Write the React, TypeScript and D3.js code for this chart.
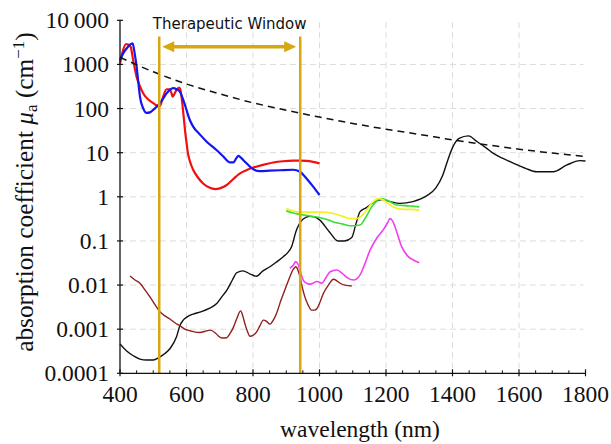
import React from "react";
import * as d3 from "d3";

type P = [number, number];

const xTicks = [400, 600, 800, 1000, 1200, 1400, 1600, 1800];
const xMinorTicks = d3.range(450, 1800, 50).filter((v) => v % 200 !== 0);
const yTicks = [0.0001, 0.001, 0.01, 0.1, 1, 10, 100, 1000, 10000];
const yTickLabels = ["0.0001", "0.001", "0.01", "0.1", "1", "10", "100", "1000", "10\u2009000"];
const xGrid = [600, 800, 1000, 1200, 1400, 1600];
const yGrid = [0.001, 0.01, 0.1, 1, 10, 100, 1000];
const windowEdges = [518, 942];

const scattering: P[] = [
  [400, 1450], [500, 680], [600, 360], [700, 215], [800, 135], [900, 92], [1000, 64],
  [1100, 46], [1200, 34], [1300, 26], [1400, 19.5], [1500, 15.2], [1600, 12], [1700, 9.8], [1800, 8.2],
];

const water: P[] = [
  [400, 0.00046], [420, 0.00032], [440, 0.00025], [460, 0.00021], [480, 0.0002], [500, 0.0002],
  [518, 0.00023], [535, 0.00028], [550, 0.00036], [570, 0.00067], [580, 0.0012], [590, 0.0016],
  [602, 0.0019], [620, 0.0022], [645, 0.0025], [670, 0.003], [691, 0.0038], [706, 0.0054],
  [721, 0.0076], [738, 0.013], [751, 0.019], [770, 0.021], [790, 0.018], [810, 0.0158],
  [830, 0.021], [851, 0.026], [870, 0.033], [891, 0.044], [905, 0.055], [916, 0.074],
  [930, 0.17], [950, 0.31], [970, 0.36], [985, 0.35], [1000, 0.3], [1030, 0.16], [1055, 0.1],
  [1075, 0.1], [1097, 0.12], [1110, 0.25], [1122, 0.46], [1140, 0.56], [1167, 0.78],
  [1187, 0.87], [1212, 0.78], [1242, 0.71], [1281, 0.78], [1322, 1.05], [1350, 1.6],
  [1370, 3.0], [1385, 6.5], [1400, 13], [1420, 21], [1448, 24], [1473, 18], [1500, 13],
  [1523, 9.6], [1550, 7.5], [1583, 5.8], [1620, 4.4], [1653, 3.7], [1703, 3.7], [1743, 5.2],
  [1783, 6.6], [1800, 6.5],
];

const oxyHb: P[] = [
  [400, 1050], [410, 2200], [418, 2900], [425, 2800], [432, 2500], [440, 1200], [450, 520],
  [460, 320], [470, 220], [485, 160], [500, 133], [510, 118], [518, 110], [525, 140], [530, 186],
  [540, 274], [550, 274], [555, 220], [558, 186], [563, 210], [570, 265], [578, 300], [582, 260],
  [585, 186], [588, 120], [592, 60], [596, 30], [600, 17], [604, 10], [610, 6.5], [620, 4.1],
  [635, 2.7], [650, 2.0], [670, 1.6], [686, 1.5], [700, 1.55], [721, 1.85], [740, 2.5],
  [761, 3.4], [780, 4.0], [801, 4.6], [830, 5.3], [861, 6.0], [890, 6.4], [921, 6.6],
  [940, 6.6], [961, 6.5], [980, 6.2], [1000, 5.7],
];

const deoxyHb: P[] = [
  [400, 1260], [410, 1800], [420, 2300], [430, 2800], [438, 3000], [444, 1800], [450, 890],
  [455, 400], [460, 186], [470, 100], [480, 80], [490, 82], [500, 93], [510, 110], [520, 132],
  [530, 170], [540, 220], [550, 265], [560, 290], [570, 275], [580, 240], [590, 160], [600, 93],
  [610, 55], [620, 39], [640, 26], [660, 18], [690, 11.5], [710, 8.3], [731, 6.0], [741, 6.0],
  [750, 7.5], [756, 8.5], [765, 7.5], [775, 6.3], [790, 4.9], [801, 4.2], [821, 3.8],
  [850, 3.9], [881, 4.0], [921, 4.1], [941, 3.7], [961, 2.6], [981, 1.7], [1000, 1.1],
];

const yellowSeries: P[] = [
  [900, 0.54], [920, 0.48], [941, 0.45], [970, 0.45], [1000, 0.45], [1042, 0.42], [1070, 0.36],
  [1090, 0.32], [1112, 0.32], [1125, 0.36], [1137, 0.45], [1157, 0.71], [1177, 0.91],
  [1192, 0.85], [1207, 0.7], [1222, 0.59], [1252, 0.52], [1275, 0.52], [1300, 0.5],
];

const greenSeries: P[] = [
  [900, 0.48], [920, 0.43], [941, 0.4], [970, 0.37], [992, 0.35], [1020, 0.31], [1042, 0.27],
  [1070, 0.24], [1092, 0.22], [1122, 0.23], [1137, 0.32], [1157, 0.59], [1172, 0.8],
  [1182, 0.91], [1202, 0.85], [1232, 0.65], [1272, 0.62], [1300, 0.59],
];

const magentaSeries: P[] = [
  [911, 0.024], [921, 0.028], [928, 0.034], [935, 0.03], [941, 0.022], [951, 0.013],
  [961, 0.011], [971, 0.0105], [981, 0.011], [991, 0.012], [1000, 0.0115], [1007, 0.011],
  [1020, 0.015], [1032, 0.02], [1052, 0.022], [1070, 0.018], [1082, 0.015], [1102, 0.013],
  [1122, 0.017], [1137, 0.031], [1152, 0.062], [1172, 0.115], [1192, 0.18], [1205, 0.26],
  [1212, 0.32], [1220, 0.28], [1227, 0.21], [1247, 0.074], [1267, 0.044], [1285, 0.036],
  [1300, 0.032],
];

const brownSeries: P[] = [
  [430, 0.016], [445, 0.013], [460, 0.011], [475, 0.0078], [490, 0.0054], [505, 0.0036],
  [520, 0.0025], [535, 0.002], [550, 0.0017], [565, 0.0014], [580, 0.0012], [595, 0.001],
  [611, 0.00092], [626, 0.00086], [641, 0.00084], [656, 0.0009], [671, 0.00095], [686, 0.00083],
  [696, 0.0007], [706, 0.00063], [721, 0.00064], [731, 0.0008], [741, 0.0011], [752, 0.0018],
  [763, 0.0026], [770, 0.0019], [776, 0.0013], [783, 0.0009], [791, 0.00069], [800, 0.00072],
  [811, 0.00087], [821, 0.0012], [831, 0.0016], [841, 0.0015], [851, 0.0013], [861, 0.0016],
  [871, 0.0023], [884, 0.0045], [896, 0.0078], [911, 0.0155], [920, 0.022], [929, 0.026],
  [935, 0.022], [941, 0.0155], [948, 0.009], [956, 0.0054], [966, 0.0035], [976, 0.0027],
  [985, 0.0027], [992, 0.0029], [1002, 0.0042], [1012, 0.0065], [1027, 0.01], [1042, 0.0135],
  [1052, 0.0125], [1062, 0.011], [1080, 0.0098], [1097, 0.0095],
];

const W = 611;
const H = 444;
const left = 120;
const right = 585.5;
const top = 20.3;
const bottom = 373.3;
const gold = "#D6A70E";
const serif = "Liberation Serif, Times New Roman, Times, DejaVu Serif, serif";
const sans = "DejaVu Sans, Verdana, sans-serif";

export default function App() {
  const x = d3.scaleLinear().domain([400, 1800]).range([left, right]);
  const y = d3.scaleLog().domain([0.0001, 10000]).range([bottom, top]);
  const line = d3
    .line<P>()
    .x((d) => x(d[0]))
    .y((d) => y(d[1]))
    .curve(d3.curveMonotoneX);

  const series: { data: P[]; color: string; width: number; dash?: string }[] = [
    { data: water, color: "#111", width: 1.4 },
    { data: brownSeries, color: "#8E2020", width: 1.4 },
    { data: magentaSeries, color: "#F040F0", width: 1.6 },
    { data: greenSeries, color: "#33E033", width: 1.6 },
    { data: yellowSeries, color: "#F2F020", width: 1.6 },
    { data: oxyHb, color: "#F01010", width: 2.2 },
    { data: deoxyHb, color: "#1515F0", width: 2.2 },
    { data: scattering, color: "#111", width: 1.5, dash: "7,5" },
  ];

  const ax0 = x(windowEdges[0]) + 3;
  const ax1 = x(windowEdges[1]) - 4;
  const ay = 46.7;
  const head = 12;
  const hh = 5.5;
  const serifStyle = { fontFamily: serif };

  return (
    <svg
      width={W}
      height={H}
      style={{ position: "absolute", left: 0, top: 0, background: "#fff" }}
    >
      {/* grid */}
      {xGrid.map((v) => (
        <line key={"gx" + v} x1={x(v)} x2={x(v)} y1={top + 2} y2={bottom}
          stroke="#dcdcdc" strokeWidth={1} strokeDasharray="6,4" />
      ))}
      {yGrid.map((v) => (
        <line key={"gy" + v} x1={left} x2={right - 2} y1={y(v)} y2={y(v)}
          stroke="#dcdcdc" strokeWidth={1} strokeDasharray="6,4" />
      ))}

      {/* series */}
      {series.map((s, i) => (
        <path key={i} d={line(s.data) || ""} fill="none" stroke={s.color}
          strokeWidth={s.width} strokeDasharray={s.dash} strokeLinejoin="round" />
      ))}

      {/* therapeutic window */}
      {windowEdges.map((v) => (
        <line key={"tw" + v} x1={x(v)} x2={x(v)} y1={36.5} y2={bottom}
          stroke={gold} strokeWidth={2.5} />
      ))}
      <line x1={ax0 + head - 1} x2={ax1 - head + 1} y1={ay} y2={ay} stroke={gold} strokeWidth={3.5} />
      <path d={`M${ax0},${ay} L${ax0 + head},${ay - hh} L${ax0 + head},${ay + hh} Z`} fill={gold} />
      <path d={`M${ax1},${ay} L${ax1 - head},${ay - hh} L${ax1 - head},${ay + hh} Z`} fill={gold} />
      <text x={(x(windowEdges[0]) + x(windowEdges[1])) / 2} y={29} textAnchor="middle"
        style={{ fontFamily: sans }} fontSize={15} fill="#111">
        Therapeutic Window
      </text>

      {/* axes */}
      <line x1={left} x2={left} y1={top} y2={bottom} stroke="#111" strokeWidth={1.3} />
      <line x1={left} x2={right} y1={bottom} y2={bottom} stroke="#111" strokeWidth={1.3} />
      {yTicks.map((v, i) => (
        <g key={"yt" + v}>
          <line x1={left - 3} x2={left + 3} y1={y(v)} y2={y(v)} stroke="#111" strokeWidth={1.2} />
          <text x={109} y={y(v) + 8} textAnchor="end" style={serifStyle} fontSize={23.5} fill="#111">
            {yTickLabels[i]}
          </text>
        </g>
      ))}
      {xTicks.map((v) => (
        <g key={"xt" + v}>
          <line x1={x(v)} x2={x(v)} y1={bottom - 4} y2={bottom + 3} stroke="#111" strokeWidth={1.2} />
          <text x={x(v)} y={401.5} textAnchor="middle" style={serifStyle} fontSize={23.5} fill="#111">
            {v}
          </text>
        </g>
      ))}
      {xMinorTicks.map((v) => (
        <line key={"xm" + v} x1={x(v)} x2={x(v)} y1={bottom - 3} y2={bottom}
          stroke="#111" strokeWidth={1} />
      ))}

      {/* axis titles */}
      <text x={360} y={437} textAnchor="middle" style={serifStyle} fontSize={23.5} fill="#111">
        wavelength (nm)
      </text>
      <text transform="translate(33,192) rotate(-90)" textAnchor="middle" style={serifStyle}
        fontSize={25.3} fill="#111">
        absorption coefficient{" "}
        <tspan fontStyle="italic">μ</tspan>
        <tspan fontSize={17} dy={4}>a</tspan>
        <tspan dy={-4}> (cm</tspan>
        <tspan fontSize={17} dy={-9.5}>−1</tspan>
        <tspan dy={9.5}>)</tspan>
      </text>
    </svg>
  );
}
